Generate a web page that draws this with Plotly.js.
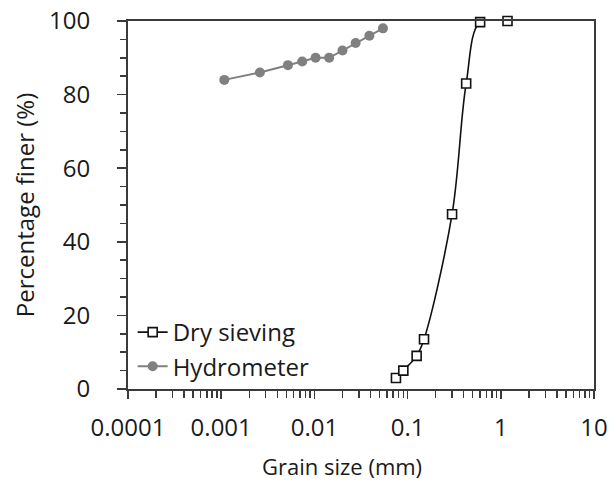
<!DOCTYPE html>
<html>
<head>
<meta charset="utf-8">
<script src="https://cdn.plot.ly/plotly-3.0.1.min.js"></script>
<style>
  html, body { margin: 0; padding: 0; background: #fff; }
  #chart { width: 609px; height: 483px; }
</style>
</head>
<body>
<div id="chart"></div>
<script>
// Particle size distribution: sieve analysis and hydrometer test
const sieveSize = [0.075, 0.09, 0.125, 0.15, 0.3, 0.425, 0.6, 1.18];
const sievePassing = [3, 5, 9, 13.5, 47.5, 83, 99.7, 100];

const hydroSize = [0.00108, 0.0026, 0.0052, 0.0074, 0.0103, 0.0144, 0.020, 0.0277, 0.0389, 0.0544];
const hydroPassing = [84, 86, 88, 89, 90, 90, 92, 94, 96, 98];

const xTickVals = [0.0001, 0.001, 0.01, 0.1, 1, 10];
const xTickText = ['0.0001', '0.001', '0.01', '0.1', '1', '10'];
const yTickVals = [0, 20, 40, 60, 80, 100];

const FONT = 'Open Sans, Noto Sans, sans-serif';
const AXIS_COLOR = '#3a3a3a';
const TEXT_COLOR = '#1a1a1a';

const traces = [
  {
    name: 'Dry sieving',
    x: sieveSize,
    y: sievePassing,
    type: 'scatter',
    mode: 'lines+markers',
    line: { color: '#111', width: 1.6, shape: 'spline', smoothing: 1 },
    marker: { symbol: 'square', size: 9, color: '#fff', line: { color: '#111', width: 1.6 } },
    cliponaxis: false
  },
  {
    name: 'Hydrometer',
    x: hydroSize,
    y: hydroPassing,
    type: 'scatter',
    mode: 'lines+markers',
    line: { color: '#808080', width: 2 },
    marker: { symbol: 'circle', size: 10, color: '#808080' },
    cliponaxis: false
  }
];

const layout = {
  width: 609,
  height: 483,
  margin: { l: 128, r: 15, t: 21, b: 94 },
  paper_bgcolor: '#fff',
  plot_bgcolor: '#fff',
  font: { family: FONT, size: 24, color: TEXT_COLOR },
  showlegend: true,
  legend: {
    x: 0.01, y: 0.0, xanchor: 'left', yanchor: 'bottom',
    bgcolor: 'rgba(0,0,0,0)',
    font: { family: FONT, size: 24, color: TEXT_COLOR },
    itemwidth: 30,
    tracegroupgap: 0
  },
  xaxis: {
    type: 'log',
    range: [-4, 1],
    tickmode: 'array',
    tickvals: xTickVals,
    ticktext: xTickText,
    ticks: 'outside',
    ticklen: 8,
    tickwidth: 1.5,
    tickcolor: AXIS_COLOR,
    ticklabelstandoff: 8,
    minor: { dtick: 'D1', ticks: 'outside', ticklen: 7, tickwidth: 1.5, tickcolor: AXIS_COLOR, showgrid: false },
    showline: true,
    linecolor: AXIS_COLOR,
    linewidth: 2,
    mirror: true,
    showgrid: false,
    zeroline: false,
    tickfont: { family: FONT, size: 24, color: TEXT_COLOR }
  },
  yaxis: {
    range: [0, 100],
    tickmode: 'array',
    tickvals: yTickVals,
    ticks: 'outside',
    ticklen: 9,
    tickwidth: 1.5,
    tickcolor: AXIS_COLOR,
    ticklabelstandoff: 22,
    minor: { dtick: 5, ticks: 'outside', ticklen: 6, tickwidth: 1.5, tickcolor: AXIS_COLOR, showgrid: false },
    showline: true,
    linecolor: AXIS_COLOR,
    linewidth: 2,
    mirror: true,
    showgrid: false,
    zeroline: false,
    tickfont: { family: FONT, size: 24, color: TEXT_COLOR },
    title: { text: 'Percentage finer (%)', standoff: 8, font: { family: FONT, size: 24, color: TEXT_COLOR } }
  },
  annotations: [
    {
      text: 'Grain size (mm)',
      xref: 'paper', yref: 'paper',
      x: 0.46, y: -0.21,
      xanchor: 'center', yanchor: 'middle',
      showarrow: false,
      font: { family: FONT, size: 22, color: TEXT_COLOR }
    }
  ]
};

Plotly.newPlot('chart', traces, layout, { displayModeBar: false, staticPlot: true });
</script>
</body>
</html>
